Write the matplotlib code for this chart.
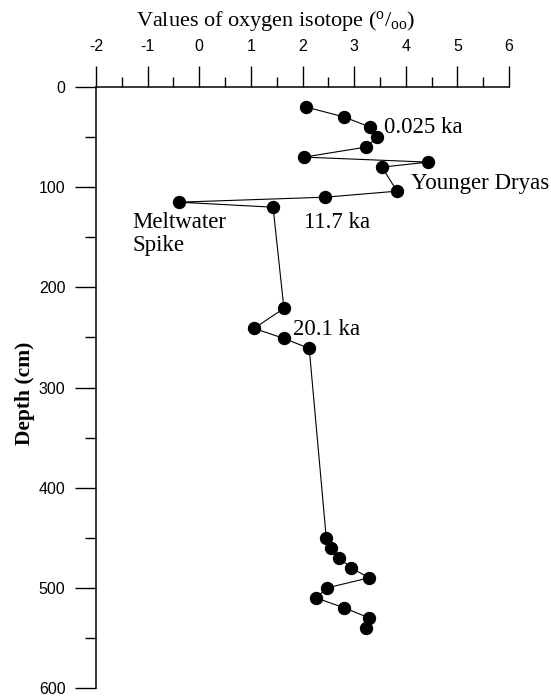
import matplotlib
matplotlib.use('Agg')
import matplotlib.pyplot as plt
from matplotlib.ticker import MultipleLocator

# oxygen isotope values, top to bottom
depth = [20, 30, 40, 50, 60, 70, 75, 80, 104, 110, 115, 120,
         221, 241, 251, 261,
         450, 460, 470, 480, 490, 500, 510, 520, 530, 540]
isotope = [2.07, 2.81, 3.31, 3.45, 3.23, 2.03, 4.43, 3.54, 3.83, 2.44, -0.39, 1.43,
           1.64, 1.06, 1.64, 2.13,
           2.46, 2.55, 2.71, 2.94, 3.29, 2.48, 2.26, 2.81, 3.29, 3.23]

# event labels: (text, x, depth)
labels = ['0.025 ka', 'Younger Dryas', '11.7 ka', 'Meltwater\nSpike', '20.1 ka']
label_x = [3.58, 4.10, 2.03, -1.30, 1.82]
label_depth = [40, 96, 135, 147, 242]

xticks = [-2, -1, 0, 1, 2, 3, 4, 5, 6]
yticks = [0, 100, 200, 300, 400, 500, 600]

plt.rcParams['mathtext.fontset'] = 'custom'
plt.rcParams['mathtext.rm'] = 'Liberation Serif'
plt.rcParams['mathtext.it'] = 'Liberation Serif:italic'
plt.rcParams['axes.unicode_minus'] = False

serif = 'Liberation Serif'
sans = 'Liberation Sans'

fig = plt.figure(figsize=(5.51, 6.99), dpi=100)
ax = fig.add_axes([96 / 551, 1 - 688 / 699, 413 / 551, 601 / 699])

ax.plot(isotope, depth, color='black', lw=0.8, marker='o', ms=8.6,
        mfc='black', mec='black', zorder=3)

ax.set_xlim(-2, 6)
ax.set_ylim(600, 0)
ax.set_xticks(xticks)
ax.set_yticks(yticks)
ax.xaxis.set_minor_locator(MultipleLocator(0.5))
ax.yaxis.set_minor_locator(MultipleLocator(50))
ax.xaxis.tick_top()

ax.spines['right'].set_visible(False)
ax.spines['bottom'].set_visible(False)
ax.spines['top'].set_linewidth(1.1)
ax.spines['left'].set_linewidth(1.1)

ax.tick_params(axis='x', which='major', direction='out', length=15, width=1.0, pad=9)
ax.tick_params(axis='x', which='minor', direction='out', length=7.5, width=1.0)
ax.tick_params(axis='y', which='major', direction='out', length=15, width=1.0, pad=7)
ax.tick_params(axis='y', which='minor', direction='out', length=8, width=1.0)

for lab in ax.get_xticklabels() + ax.get_yticklabels():
    lab.set_family(sans)
    lab.set_fontsize(11.5)

for txt, x, d in zip(labels, label_x, label_depth):
    ax.text(x, d, txt, family=serif, fontsize=16.5, ha='left', va='center',
            linespacing=1.15)

fig.text(276 / 551, 1 - 21 / 699, r'Values of oxygen isotope ($^{\mathrm{o}}/_{\mathrm{oo}}$)',
         family=serif, fontsize=16, ha='center', va='center')
fig.text(25 / 551, 1 - 393 / 699, 'Depth (cm)', family=serif, fontsize=15.5,
         fontweight='bold', rotation=90, ha='center', va='center')

fig.savefig('out.png', dpi=100)
